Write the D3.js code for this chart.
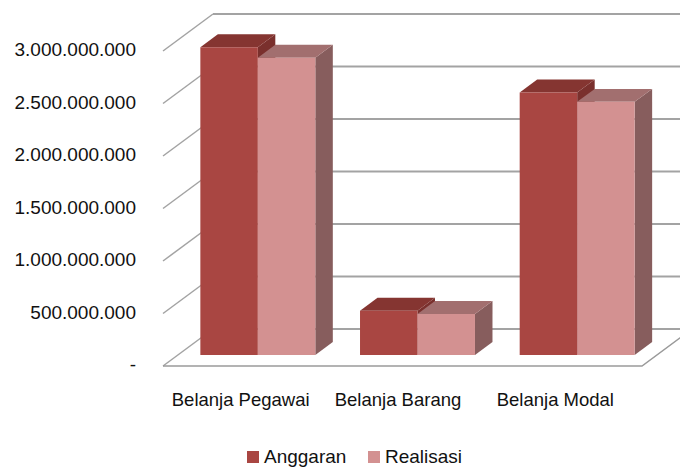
<!DOCTYPE html>
<html><head><meta charset="utf-8">
<script src="https://cdn.jsdelivr.net/npm/d3@7"></script>
<style>html,body{margin:0;padding:0;background:#fff;}svg{display:block;}</style>
</head><body>
<svg id="chart" width="680" height="467"></svg>
<script>
const categories = ["Belanja Pegawai", "Belanja Barang", "Belanja Modal"];
const seriesNames = ["Anggaran", "Realisasi"];
const anggaran = [2930000000, 420000000, 2500000000];
const realisasi = [2830000000, 390000000, 2410000000];
const yTicks = [0, 500000000, 1000000000, 1500000000, 2000000000, 2500000000, 3000000000];

const seriesValues = [anggaran, realisasi];
const colors = [
  {front: "#A94642", top: "#853531", side: "#7A302D"},
  {front: "#D39191", top: "#A26F6F", side: "#875D5D"}
];

const svg = d3.select("#chart");
const font = "'Liberation Sans', Arial, sans-serif";

// projection geometry
const left = 163, right = 642;
const depthDX = 50, depthDY = -37;
const barZ0 = 0.3, barZ1 = 0.65;
const y = d3.scaleLinear().domain([0, 3000000000]).range([366, 51]);
const x0 = d3.scaleBand().domain(categories).range([left, right]).paddingInner(0.28).paddingOuter(0.14);
const x1 = d3.scaleBand().domain(seriesNames).range([0, x0.bandwidth()]);
const labelX = d3.scaleBand().domain(categories).range([162, 634]);
const P = (px, py, z) => [px + z * depthDX, py + z * depthDY];

const loc = d3.formatLocale({decimal: ",", thousands: ".", grouping: [3], currency: ["", ""]});
const fmt = v => v === 0 ? "-" : loc.format(",.0f")(v);

const gridColor = "#a3a3a3";
const g = svg.append("g");

// back wall gridlines
yTicks.forEach(t => {
  const a = P(left, y(t), 1), b = P(right + 10, y(t), 1);
  g.append("line").attr("x1", a[0]).attr("y1", a[1]).attr("x2", b[0] + 40).attr("y2", b[1])
    .attr("stroke", gridColor).attr("stroke-width", 1.8);
});
// left wall diagonals
yTicks.forEach(t => {
  const a = P(left, y(t), 0), b = P(left, y(t), 1);
  g.append("line").attr("x1", a[0]).attr("y1", a[1]).attr("x2", b[0]).attr("y2", b[1])
    .attr("stroke", gridColor).attr("stroke-width", 1.5);
});
// floor outline
{
  const f0 = P(left, y(0), 0), f1 = P(right, y(0), 0), f2 = P(right, y(0), 1);
  g.append("path").attr("d", `M${f0}L${f1}L${f2}`).attr("fill", "none")
    .attr("stroke", "#9a9a9a").attr("stroke-width", 1.5);
}

// bars
categories.forEach((c, ci) => {
  seriesNames.forEach((s, si) => {
    const v = seriesValues[si][ci];
    const xa = x0(c) + x1(s), xb = xa + x1.bandwidth();
    const yt = y(v), yb = y(0);
    const col = colors[si];
    const fA = P(xa, yt, barZ0), fB = P(xb, yt, barZ0), fC = P(xb, yb, barZ0), fD = P(xa, yb, barZ0);
    const bA = P(xa, yt, barZ1), bB = P(xb, yt, barZ1), bC = P(xb, yb, barZ1);
    g.append("path").attr("d", `M${fB}L${bB}L${bC}L${fC}Z`).attr("fill", col.side);
    g.append("path").attr("d", `M${fA}L${bA}L${bB}L${fB}Z`).attr("fill", col.top);
    g.append("path").attr("d", `M${fA}L${fB}L${fC}L${fD}Z`).attr("fill", col.front);
  });
});

// y labels
yTicks.forEach(t => {
  svg.append("text").attr("x", 136).attr("y", y(t) + 5).attr("text-anchor", "end")
    .attr("font-family", font).attr("font-size", 19).attr("fill", "#111").text(fmt(t));
});

// category labels
categories.forEach(c => {
  svg.append("text").attr("x", labelX(c) + labelX.bandwidth() / 2).attr("y", 406)
    .attr("text-anchor", "middle").attr("font-family", font).attr("font-size", 18.5)
    .attr("fill", "#111").text(c);
});

// legend
const legX = [247, 368];
seriesNames.forEach((s, i) => {
  svg.append("rect").attr("x", legX[i]).attr("y", 451).attr("width", 12).attr("height", 12)
    .attr("fill", colors[i].front);
  svg.append("text").attr("x", legX[i] + 17).attr("y", 463).attr("font-family", font)
    .attr("font-size", 19).attr("fill", "#111").text(s);
});
</script>
</body></html>
